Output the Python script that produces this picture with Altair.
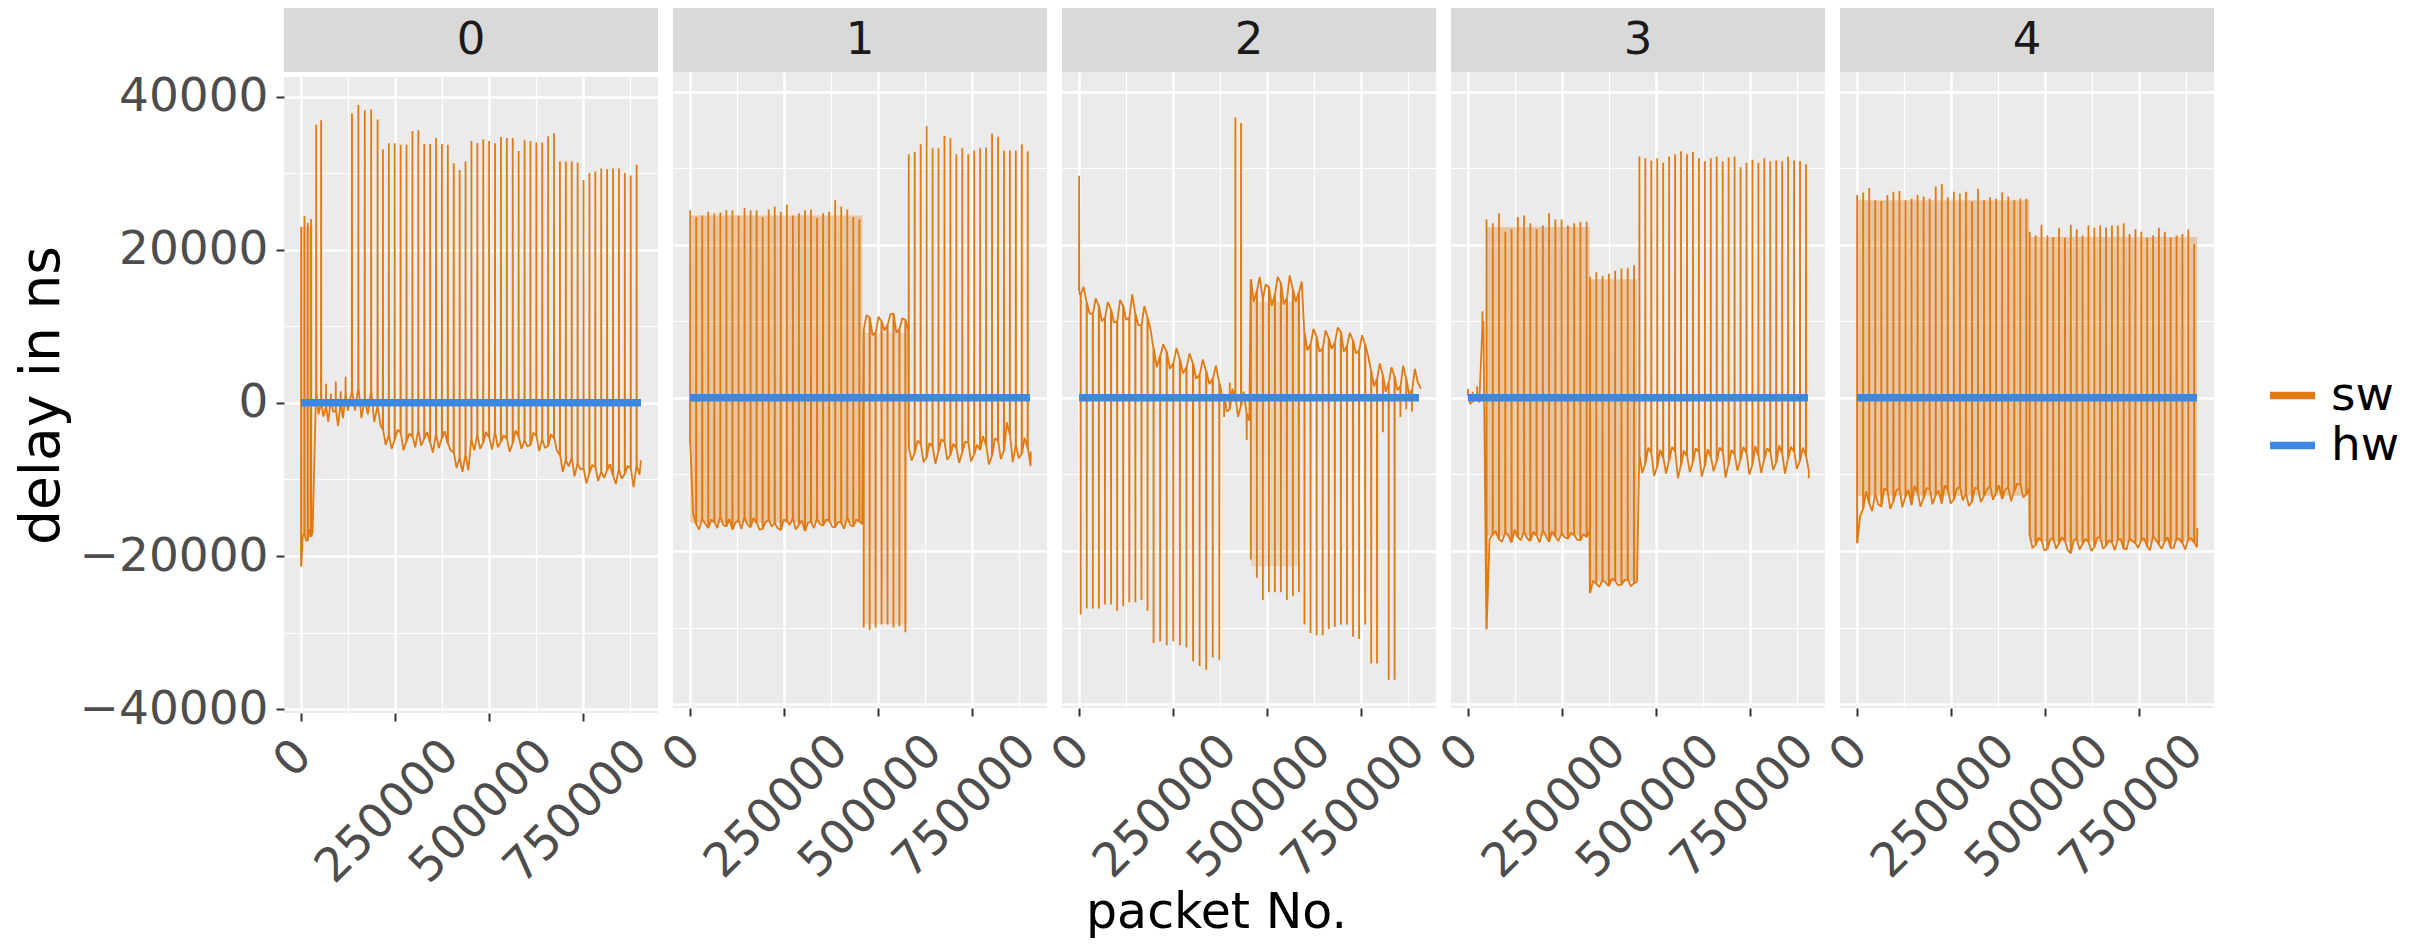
import altair as alt
import pandas as pd

FONT = "DejaVu Sans"
ORANGE = "#E07A12"
BLUE = "#3B88E2"

PANELS = [0, 1, 2, 3, 4]
SERIES = ["sw", "hw"]
X_TICKS = [0, 125000, 250000, 375000, 500000, 625000, 750000, 875000]
Y_TICKS = [-40000, -30000, -20000, -10000, 0, 10000, 20000, 30000, 40000]
X_DOMAIN = [-45150, 948150]
Y_DOMAIN = [-40500, 42550]

# hw series (flat at zero in every panel)
HW_X = [0, 903000]
HW_Y = [0, 0]

# sw series: segments (first spike x, spacing, number of spikes),
# then spike extreme values, baseline values before each spike and mid-gap baseline values
P0_SEG = [(0, 8750, 4), (40000, 13000, 7), (135000, 17000, 5), (217200, 15670, 44)]
P0_TOP = [23000, 24400, 23500, 24000,
          36300, 36900, 2500, 1200, 2800, 1500, 3400,
          37800, 38900, 38200, 38300, 37000,
          33100, 33900, 33900, 33700, 33700, 35500, 35600, 33800, 33800, 34600,
          33800, 33700, 31300, 30400, 31500, 34200, 33900, 34400, 34200, 33900,
          34700, 34600, 34600, 32900, 34300, 34200, 34000, 34000, 34800, 35200,
          31500, 31500, 31500, 31400, 29100, 30000, 30200, 30600, 30500, 30600,
          30600, 30000, 29700, 31100]
P0_B1 = [-21400, -17000, -18000, -17500,
         1500, 0, -500, 500, -1000, 0, 1000,
         1500, 2000, 500, 1500, -500,
         -3500, -4200, -4800, -3900, -5000, -4400, -3600, -4700, -5200, -4100,
         -4600, -5300, -6500, -7200, -6800, -4800, -4200, -5200, -4500, -3900,
         -5100, -4700, -5300, -4400, -4900, -5500, -4300, -4800, -5600, -4600,
         -6800, -7500, -7200, -7900, -8600, -9200, -8400, -9000, -8800, -9500,
         -8700, -9300, -8600, -8200]
P0_B2 = [-17500, -18000, -16500, -17000,
         -1500, -1800, -2500, -1200, -3000, -2000, -1000,
         -1000, -2000, -1500, -2500, -3000,
         -5500, -6000, -3500, -6200, -4000, -5800, -5600, -3800, -6500, -5900,
         -3700, -6200, -8500, -9000, -8800, -6200, -6000, -3800, -6100, -5800,
         -4200, -6400, -3600, -6000, -5700, -3900, -6300, -5900, -4100, -6200,
         -9000, -8300, -9600, -8700, -10500, -8100, -10200, -9800, -8000, -10600,
         -9900, -8200, -11000, -9400]
P0_END = (903000, -7500)

P1_SEG = [(0, 16050, 29), (461000, 15800, 8), (580600, 15800, 21)]
P1_TOP = [24500, 23600, 23800, 24300, 24100, 24200, 24500, 24500, 23800, 24800,
          24500, 24500, 23600, 24600, 25000, 24300, 25200, 23800, 24100, 24500,
          24600, 23500, 24100, 24300, 25800, 25000, 24600, 23600, 23300,
          -30000, -30300, -30000, -29600, -29600, -30000, -29800, -30600,
          31800, 32100, 33100, 35500, 32600, 32600, 34200, 33900, 31800, 32600,
          31800, 32300, 32600, 32700, 34500, 34100, 32300, 32300, 32300, 33100, 32200]
P1_B1 = [-6000, -16500, -15800, -17000, -16200, -15500, -16800, -17200, -16000, -15600,
         -16900, -16300, -17100, -15900, -16400, -17300, -16100, -15700, -16600, -17400,
         -16200, -15800, -16700, -16000, -16900, -16300, -15600, -16800, -16100,
         9000, 10500, 8500, 10000, 9500, 11000, 9000, 10200,
         -6500, -7200, -6000, -7800, -6400, -7000, -5800, -7500, -6600, -7100,
         -5900, -7400, -6800, -6200, -7600, -5600, -6900, -4800, -6200, -7300, -6600]
P1_B2 = [-15000, -17200, -16400, -15900, -17000, -16600, -15800, -16300, -17100, -16500,
         -15700, -17200, -16200, -16800, -17000, -15900, -16600, -17200, -16000, -16300,
         -17000, -16500, -15900, -16800, -16200, -17100, -16600, -15900, -16500,
         10800, 8200, 10600, 8800, 10900, 8500, 10400, 8900,
         -8200, -5600, -8400, -5900, -8600, -5400, -8100, -6000, -8500, -5700,
         -8300, -6100, -5000, -8700, -5300, -8000, -3200, -8400, -7900, -5200, -8900]
P1_END = (905000, -7000)

P2_SEG = [(0, 4000, 1), (4000, 16150, 12), (197700, 17460, 11), (385000, 15000, 5),
          (456000, 15950, 9), (598400, 16130, 11), (775700, 15500, 9)]
P2_TOP = [29000,
          -28300, -27500, -27500, -27500, -27000, -27000, -27800, -27200, -26700, -26700, -26400, -27800,
          -32000, -31800, -32300, -31800, -32300, -32600, -34400, -35000, -35500, -33900, -34200,
          -2500, 2000, 36600, 35900, -5500,
          -21100, -23500, -26400, -25400, -25400, -25400, -26400, -25900, -25400,
          -29600, -30700, -31000, -31000, -30200, -29900, -29600, -29600, -31200, -31500, -29600,
          -34700, -34700, -4500, -36800, -36800, -2500, -1500, -1800, 2000]
P2_B1 = [14000,
         13500, 12500, 11000, 12000, 10500, 11500, 10000, 12000, 10500, 11000, 9500, 10500,
         6500, 5500, 6000, 4500, 5000, 4000, 4500, 3000, 3500, 2500, 2000,
         500, -1500, 0, -1000, -2000,
         15500, 14000, 13000, 14500, 13500, 15000, 13000, 14200, 13800,
         8500, 7000, 8000, 6500, 7800, 7200, 8600, 6800, 7500, 6200, 7000,
         3500, 2500, 3000, 2000, 2800, 1500, 2500, 1000, 2000]
P2_B2 = [13500,
         14500, 11000, 13000, 10000, 12500, 9800, 12800, 10200, 13500, 9500, 12000, 9000,
         4000, 7000, 3800, 6500, 3200, 5800, 2500, 5000, 1800, 4200, 0,
         -1800, 1200, -2500, 800, -3000,
         12500, 15800, 14800, 12000, 15800, 12200, 16000, 12500, 15200,
         6200, 9000, 6000, 8800, 6400, 9200, 6000, 8500, 5800, 8200, 5500,
         1500, 4500, 800, 4000, 1000, 4200, 500, 3800, 1200]
P2_END = (905000, 1500)

P3_SEG = [(0, 12000, 3), (38000, 6000, 1), (48800, 16620, 17), (323600, 16710, 8), (454800, 15800, 29)]
P3_TOP = [1200, 800, 1500,
          11300,
          23300, 22800, 24100, 21700, 22000, 23600, 23800, 22800, 22000, 22500,
          24100, 23300, 23300, 22500, 22800, 23000, 23000,
          15800, 16400, 15900, 16200, 16600, 16900, 17000, 17300,
          31500, 31300, 31000, 31300, 30700, 31500, 31800, 32200, 31800, 32100,
          31300, 30900, 31300, 31500, 30900, 31400, 31500, 30100, 30700, 31100,
          30700, 31300, 30900, 31000, 30900, 31500, 31000, 30900, 30500]
P3_B1 = [300, -500, 200,
         9000,
         -30200, -17800, -18500, -17600, -18900, -18200, -17500, -18700, -18000, -17300,
         -18800, -18100, -17700, -18400, -17900, -18600, -18200,
         -25500, -24300, -23800, -24600, -23900, -24400, -23700, -24200,
         -7500, -8600, -7200, -9000, -7800, -8200, -7000, -8800, -7600, -8400,
         -7100, -8900, -7700, -8300, -7000, -8700, -7400, -8100, -7200, -8800,
         -7600, -8000, -7100, -8500, -7300, -7900, -7000, -8200, -7600]
P3_B2 = [-800, 0, -600,
         10000,
         -18500, -17400, -18800, -17900, -17200, -18600, -18300, -17500, -18900, -18000,
         -17400, -18700, -18200, -17600, -18500, -17800, -17300,
         -23900, -24700, -24100, -23600, -24500, -23800, -24600, -24000,
         -9800, -6500, -10200, -6800, -9900, -6400, -10500, -6900, -9700, -6600,
         -10300, -6700, -9600, -6500, -10400, -6800, -9500, -6400, -10000, -6300,
         -9800, -6600, -9400, -6200, -9900, -6400, -9300, -6500, -9500]
P3_END = (905000, -10500)

P4_SEG = [(0, 16050, 29), (458300, 15600, 29)]
P4_TOP = [26500, 26800, 27400, 25800, 25700, 26500, 26900, 27000, 25800, 26000,
          26500, 26300, 26000, 27600, 27900, 26200, 26900, 26700, 26900, 25600,
          27300, 25800, 26200, 26000, 26800, 26300, 25800, 26000, 26000,
          21700, 21200, 22600, 21200, 21000, 22200, 20900, 22600, 22000, 21200,
          22500, 22200, 22500, 22200, 22500, 22500, 22800, 21400, 22000, 21700,
          20900, 21200, 22200, 21700, 20900, 21200, 21400, 22000, 20100]
P4_B1 = [-19000, -14500, -13800, -12600, -14200, -12100, -13500, -11800, -12900, -14000,
         -12300, -13100, -11900, -12700, -13800, -12000, -13300, -11600, -12500, -13600,
         -11900, -12800, -11500, -12400, -13200, -11700, -12200, -11300, -12600,
         -18000, -19200, -18600, -19800, -18300, -19000, -18700, -20300, -18400, -19100,
         -18800, -19500, -18200, -19300, -18900, -18500, -19700, -18300, -19000, -18600,
         -19400, -18100, -19200, -18700, -19600, -18400, -19000, -18500, -18900]
P4_B2 = [-15500, -12200, -14800, -13900, -11800, -14500, -12100, -14300, -12000, -11500,
         -14200, -11800, -13900, -12100, -11400, -13800, -11900, -13400, -14100, -11700,
         -13600, -12000, -13300, -11400, -12000, -13500, -11200, -13000, -11800,
         -19600, -18300, -19900, -18500, -19700, -18200, -19900, -18600, -19800, -18400,
         -20000, -18300, -19700, -18600, -19900, -18400, -19800, -18700, -19600, -18300,
         -19900, -18500, -19700, -18200, -19600, -18400, -19800, -18300, -19500]
P4_END = (904000, -17000)

# envelopes of the densely oscillating sw stretches
BAND_PANEL = [0, 1, 1, 2, 3, 3, 4, 4]
BAND_X0 = [0, 0, 461000, 456000, 48800, 323600, 0, 458300]
BAND_X1 = [30600, 457800, 577600, 584000, 323400, 449300, 457800, 903300]
BAND_LO = [-17500, -16300, -29500, -22000, -18000, -24000, -12800, -18800]
BAND_HI = [23000, 23800, 8500, 12500, 22300, 15500, 25800, 21000]
BAND_ALPHA = [0.32, 0.32, 0.2, 0.2, 0.32, 0.32, 0.32, 0.32]

EPS = 400
W, STRIP_H, PLOT_H = 374, 64, 636


def sw_frame(p, seg, top, b1, b2, end):
    pts = []
    k = 0
    for x0, step, n in seg:
        for j in range(n):
            x = x0 + j * step
            pts += [(x, b1[k]), (x + EPS, top[k]), (x + 2 * EPS, b1[k]), (x + step / 2, b2[k])]
            k += 1
    assert k == len(top) == len(b1) == len(b2), (p, k, len(top), len(b1), len(b2))
    pts.append(end)
    return pd.DataFrame({"x": [a for a, _ in pts], "y": [b for _, b in pts],
                         "i": list(range(len(pts))), "series": "sw"})


SW = {
    0: sw_frame(0, P0_SEG, P0_TOP, P0_B1, P0_B2, P0_END),
    1: sw_frame(1, P1_SEG, P1_TOP, P1_B1, P1_B2, P1_END),
    2: sw_frame(2, P2_SEG, P2_TOP, P2_B1, P2_B2, P2_END),
    3: sw_frame(3, P3_SEG, P3_TOP, P3_B1, P3_B2, P3_END),
    4: sw_frame(4, P4_SEG, P4_TOP, P4_B1, P4_B2, P4_END),
}
BANDS = pd.DataFrame({"panel": BAND_PANEL, "x": BAND_X0, "x_end": BAND_X1,
                      "y": BAND_LO, "y_end": BAND_HI, "alpha": BAND_ALPHA})

MAJOR_X = "datum.value % 250000 === 0"
MAJOR_Y = "datum.value % 20000 === 0"


def x_axis(with_title):
    kw = dict(values=X_TICKS, format="d", labelExpr=MAJOR_X + " ? datum.label : ''",
              labelAngle=315, labelAlign="right", labelBaseline="middle",
              labelFontSize=47, labelColor="#4D4D4D", labelFont=FONT, labelLimit=500,
              labelPadding=27,
              labelOffset={"expr": MAJOR_X + " ? length(datum.label) * 10.6 - 8 : 0"},
              labelOverlap=False, labelFlush=False, labelBound=False,
              tickSize=8, tickWidth=2, tickColor="#333333",
              tickOpacity={"condition": {"test": MAJOR_X, "value": 1}, "value": 0},
              grid=True, gridColor="#FFFFFF",
              gridWidth={"condition": {"test": MAJOR_X, "value": 2.4}, "value": 1.2},
              domain=False)
    if with_title:
        kw.update(title="packet No.", titleFontSize=49, titleFont=FONT, titleColor="#000000",
                  titleFontWeight="normal", titleX=154, titleY=219, titleBaseline="alphabetic",
                  titleAlign="center")
    else:
        kw["title"] = None
    return alt.Axis(**kw)


def y_axis(first):
    kw = dict(values=Y_TICKS, format="d", grid=True, gridColor="#FFFFFF",
              gridWidth={"condition": {"test": MAJOR_Y, "value": 2.4}, "value": 1.2},
              domain=False)
    if first:
        kw.update(labelExpr=MAJOR_Y + " ? datum.label : ''", labelFontSize=47, labelColor="#4D4D4D",
                  labelFont=FONT, labelLimit=500, labelPadding=8,
                  tickSize=8, tickWidth=2, tickColor="#333333",
                  tickOpacity={"condition": {"test": MAJOR_Y, "value": 1}, "value": 0},
                  title="delay in ns", titleFontSize=55, titleFont=FONT, titleColor="#000000",
                  titleFontWeight="normal", titlePadding=14)
    else:
        kw.update(labels=False, ticks=False, title=None)
    return alt.Axis(**kw)


color = alt.Color("series:N", scale=alt.Scale(domain=SERIES, range=[ORANGE, BLUE]),
                  legend=alt.Legend(title=None, orient="none", legendX=1982, legendY=361,
                                    symbolType="stroke", symbolSize=2025, symbolStrokeWidth=7.5,
                                    labelFontSize=47, labelFont=FONT, labelColor="#000000",
                                    labelOffset=12, rowPadding=-23, padding=0))

columns = []
for p in PANELS:
    xs = alt.Scale(domain=X_DOMAIN, nice=False, zero=False)
    ys = alt.Scale(domain=Y_DOMAIN, nice=False, zero=False)
    xe = alt.X("x:Q", scale=xs, axis=x_axis(p == 2))
    ye = alt.Y("y:Q", scale=ys, axis=y_axis(p == 0))
    layers = []
    band_df = BANDS[BANDS.panel == p]
    if len(band_df):
        layers.append(alt.Chart(band_df).mark_rect(color=ORANGE).encode(
            x=xe, x2="x_end:Q", y=ye, y2="y_end:Q",
            opacity=alt.Opacity("alpha:Q", scale=None, legend=None)))
    layers.append(alt.Chart(SW[p]).mark_line(strokeWidth=1.8, strokeJoin="bevel").encode(
        x=xe, y=ye, order="i:Q", color=color))
    hw_df = pd.DataFrame({"x": HW_X, "y": HW_Y, "series": "hw"})
    layers.append(alt.Chart(hw_df).mark_line(strokeWidth=7.5, strokeCap="butt").encode(
        x=xe, y=ye, color=color))
    plot = alt.layer(*layers).properties(width=W, height=PLOT_H,
                                         view=alt.ViewBackground(fill="#EBEBEB", strokeWidth=0))
    strip = alt.Chart(pd.DataFrame({"label": [str(p)]})).mark_text(
        fontSize=45, font=FONT, color="#1A1A1A").encode(text="label:N").properties(
        width=W, height=STRIP_H, view=alt.ViewBackground(fill="#D9D9D9", strokeWidth=0))
    columns.append(alt.vconcat(strip, plot, spacing=0))

chart = alt.hconcat(*columns, spacing=-4).resolve_scale(color="shared").resolve_legend(
    color="shared").properties(padding={"left": 6, "top": 0, "right": 0, "bottom": 3},
                               background="#FFFFFF").configure_view(strokeWidth=0)

chart.save("out.html", embed_options={"renderer": "svg", "actions": False})
